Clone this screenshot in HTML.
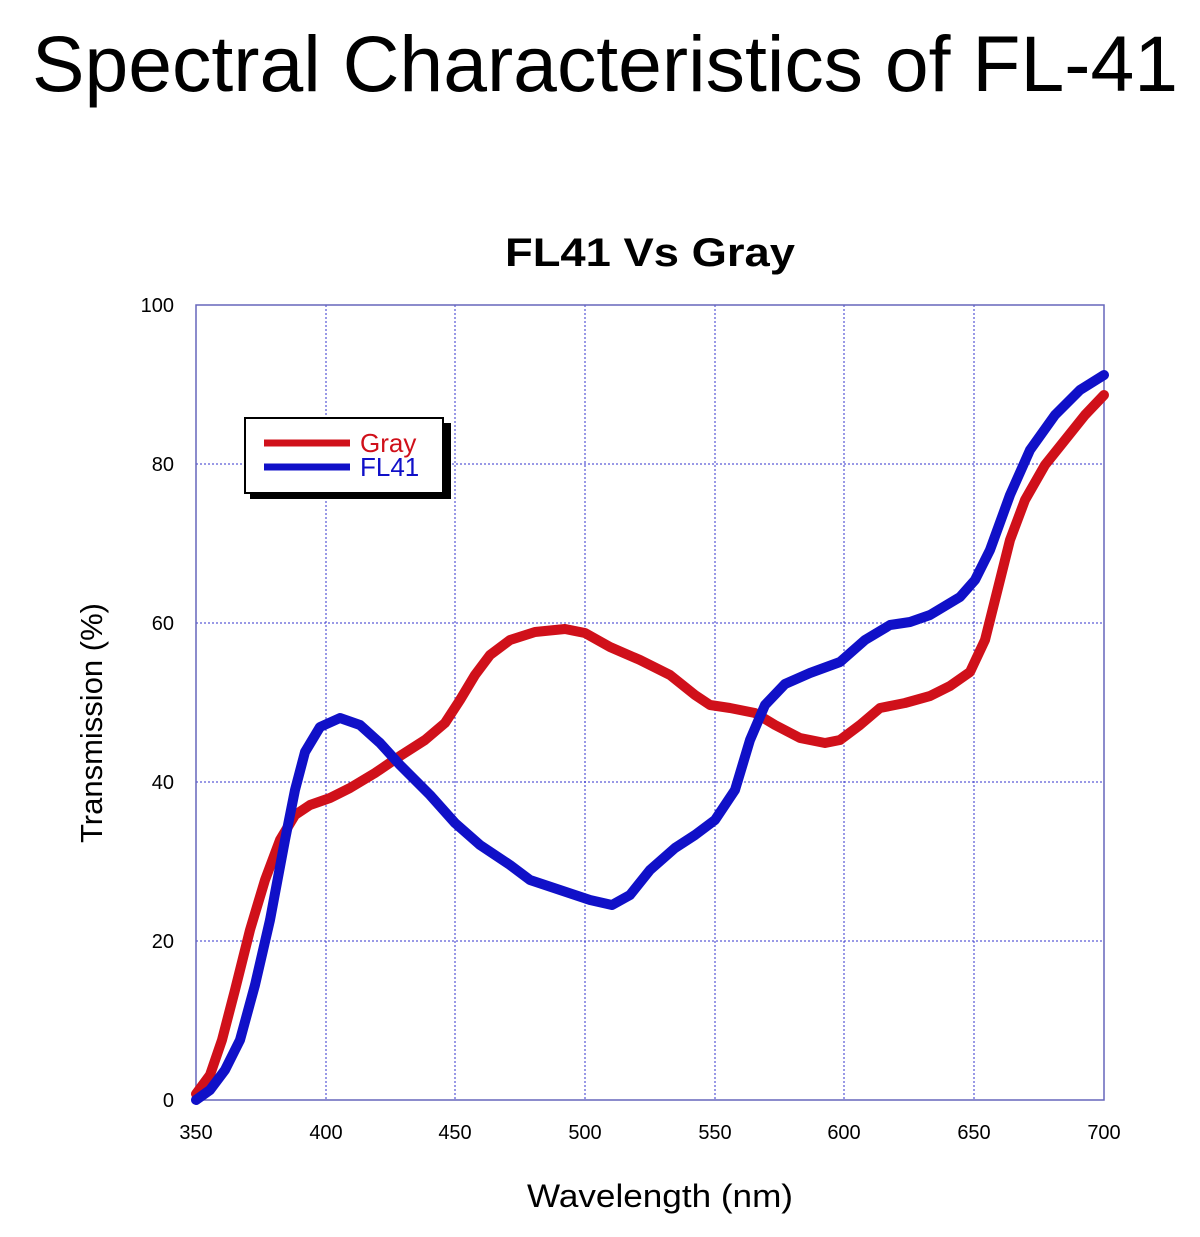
<!DOCTYPE html>
<html><head><meta charset="utf-8"><style>
html,body{margin:0;padding:0;background:#fff;}
svg{display:block;font-family:"Liberation Sans",Arial,sans-serif;}
</style></head><body>
<svg width="1200" height="1237" viewBox="0 0 1200 1237" xmlns="http://www.w3.org/2000/svg">
<text x="605" y="91" font-size="79" text-anchor="middle" fill="#000" textLength="1146" lengthAdjust="spacingAndGlyphs">Spectral Characteristics of FL-41</text>
<text x="650" y="266" font-size="40" font-weight="bold" text-anchor="middle" fill="#000" textLength="290" lengthAdjust="spacingAndGlyphs">FL41 Vs Gray</text>
<g stroke="#3333cc" stroke-width="1" stroke-dasharray="2,2" fill="none">
<line x1="326" y1="305" x2="326" y2="1100"/><line x1="455" y1="305" x2="455" y2="1100"/>
<line x1="585" y1="305" x2="585" y2="1100"/><line x1="715" y1="305" x2="715" y2="1100"/>
<line x1="844" y1="305" x2="844" y2="1100"/><line x1="974" y1="305" x2="974" y2="1100"/>
<line x1="196" y1="464" x2="1104" y2="464"/><line x1="196" y1="623" x2="1104" y2="623"/>
<line x1="196" y1="782" x2="1104" y2="782"/><line x1="196" y1="941" x2="1104" y2="941"/>
</g>
<rect x="196" y="305" width="908" height="795" fill="none" stroke="#6666bb" stroke-width="1.5"/>
<g font-size="20" fill="#000" text-anchor="end">
<text x="174" y="312">100</text><text x="174" y="471">80</text><text x="174" y="630">60</text>
<text x="174" y="789">40</text><text x="174" y="948">20</text><text x="174" y="1107">0</text>
</g>
<g font-size="20" fill="#000" text-anchor="middle">
<text x="196" y="1139">350</text><text x="326" y="1139">400</text><text x="455" y="1139">450</text>
<text x="585" y="1139">500</text><text x="715" y="1139">550</text><text x="844" y="1139">600</text>
<text x="974" y="1139">650</text><text x="1104" y="1139">700</text>
</g>
<text x="660" y="1207" font-size="32" text-anchor="middle" fill="#000" textLength="266" lengthAdjust="spacingAndGlyphs">Wavelength (nm)</text>
<text transform="translate(102,723) rotate(-90)" font-size="31" text-anchor="middle" fill="#000" textLength="240" lengthAdjust="spacingAndGlyphs">Transmission (%)</text>
<polyline fill="none" stroke="#d0101a" stroke-width="10" stroke-linejoin="round" stroke-linecap="round" points="196,1094 210,1075 222,1040 235,990 250,930 265,880 280,840 295,815 310,805 330,798 350,788 375,773 400,756 425,740 445,723 460,700 475,675 490,655 510,640 535,632 565,629 585,633 610,647 640,660 670,675 695,695 710,705 730,708 755,713 775,725 800,738 825,743 840,740 860,725 880,708 905,703 930,696 950,686 970,672 985,640 995,600 1010,540 1025,500 1045,465 1065,440 1085,415 1104,395"/>
<polyline fill="none" stroke="#1010c8" stroke-width="10" stroke-linejoin="round" stroke-linecap="round" points="196,1100 210,1090 225,1070 240,1040 255,985 270,920 285,840 295,790 305,752 320,727 340,718 360,725 380,743 400,765 430,795 455,823 480,845 510,865 530,880 560,890 590,900 612,905 630,895 650,870 675,848 695,835 715,820 735,790 750,740 765,705 785,684 810,673 840,662 865,640 890,625 910,622 930,615 960,597 975,580 990,550 1010,495 1030,450 1055,415 1080,390 1104,375"/>
<rect x="250" y="423" width="201" height="76" fill="#000"/>
<rect x="245" y="418" width="198" height="75" fill="#fff" stroke="#000" stroke-width="2"/>
<line x1="264" y1="443" x2="350" y2="443" stroke="#d0101a" stroke-width="7"/>
<line x1="264" y1="467" x2="350" y2="467" stroke="#1010c8" stroke-width="7"/>
<text x="360" y="452" font-size="26" fill="#d0101a">Gray</text>
<text x="360" y="476" font-size="26" fill="#1010c8">FL41</text>
</svg>
</body></html>
